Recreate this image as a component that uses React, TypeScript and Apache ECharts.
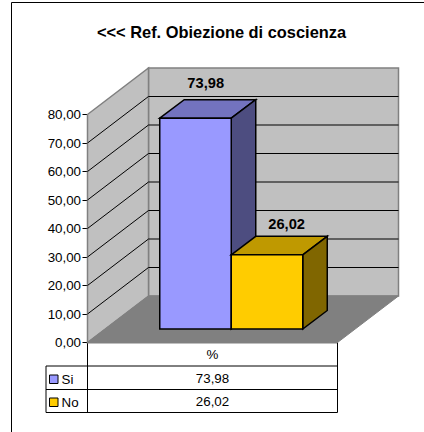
import React, { useEffect, useRef } from "react";
import * as echarts from "echarts";

const titleText = "<<< Ref. Obiezione di coscienza";
const categories = ["%"];
const seriesNames = ["Si", "No"];
const siValues = [73.98];
const noValues = [26.02];
const yMax = 80;
const yStep = 10;

const FONT = "'Liberation Sans', Arial, sans-serif";
const fmt = (v: number) => v.toFixed(2).replace(".", ",");

const DX = 61, DY = -46.5;            // wall depth
const GL = 87.5, GT = 114.5, GW = 250, GH = 228;
const BAR_W = 71.5, BAR_OFF = 18.75, BAR_LIFT = -13.5;
const BAR_DX = 24.5, BAR_DY = -18.5;
const colors = [
  { front: "#9999ff", top: "#7373bf", side: "#4d4d80" },
  { front: "#ffcc00", top: "#bf9900", side: "#806600" },
];
const labelOffset = [{ x: 10.2, y: -34.7 }, { x: 19.6, y: -30.5 }];

const renderWalls = (params: any, api: any) => {
  const cs = params.coordSys;
  const x0 = cs.x, x1 = cs.x + cs.width, yb = cs.y + cs.height, yt = cs.y;
  const kids: any[] = [];
  kids.push({ type: "polygon", shape: { points: [[x0 + DX, yt + DY], [x1 + DX, yt + DY], [x1 + DX, yb + DY], [x0 + DX, yb + DY]] }, style: { fill: "#c0c0c0", stroke: "#808080", lineWidth: 1.5 } });
  kids.push({ type: "polygon", shape: { points: [[x0, yt], [x0 + DX, yt + DY], [x0 + DX, yb + DY], [x0, yb]] }, style: { fill: "#c0c0c0", stroke: "#808080", lineWidth: 1.5 } });
  kids.push({ type: "polygon", shape: { points: [[x0, yb], [x0 + DX, yb + DY], [x1 + DX, yb + DY], [x1, yb]] }, style: { fill: "#808080", stroke: "#808080", lineWidth: 1 } });
  for (let v = yStep; v < yMax; v += yStep) {
    const y = api.coord([categories[0], v])[1];
    kids.push({ type: "polyline", shape: { points: [[x0, y], [x0 + DX, y + DY], [x1 + DX, y + DY]] }, style: { fill: "none", stroke: "#000", lineWidth: 1 } });
  }
  return { type: "group", children: kids };
};

const renderBar = (idx: number) => (params: any, api: any) => {
  const c = api.coord([api.value(0), 0]);
  const t = api.coord([api.value(0), api.value(1)]);
  const l = c[0] + BAR_OFF + (idx - 1) * BAR_W;
  const r = l + BAR_W;
  const yb = c[1] + BAR_LIFT;
  const yt = t[1] + BAR_LIFT;
  const col = colors[idx];
  const st = (fill: string) => ({ fill, stroke: "#000", lineWidth: 1.5, lineJoin: "miter" });
  return {
    type: "group",
    children: [
      { type: "polygon", shape: { points: [[l, yt], [l + BAR_DX, yt + BAR_DY], [r + BAR_DX, yt + BAR_DY], [r, yt]] }, style: st(col.top) },
      { type: "polygon", shape: { points: [[r, yt], [r + BAR_DX, yt + BAR_DY], [r + BAR_DX, yb + BAR_DY], [r, yb]] }, style: st(col.side) },
      { type: "polygon", shape: { points: [[l, yt], [r, yt], [r, yb], [l, yb]] }, style: st(col.front) },
      { type: "text", x: (l + r) / 2 + labelOffset[idx].x, y: yt + labelOffset[idx].y, style: { text: fmt(api.value(1)), font: `bold 14.67px ${FONT}`, fill: "#000", textAlign: "center", textVerticalAlign: "middle" } },
    ],
  };
};

const T = { left: 46, col: 87.5, right: 337.5, r0: 342.5, r1: 366, r2: 389.5, r3: 412.5 };
const tline = (x1: number, y1: number, x2: number, y2: number) => ({ type: "line", shape: { x1, y1, x2, y2 }, style: { stroke: "#000", lineWidth: 1 }, silent: true });
const ttext = (text: string, x: number, y: number, align = "center") => ({ type: "text", x, y, style: { text, font: `13.33px ${FONT}`, fill: "#000", textAlign: align, textVerticalAlign: "middle" }, silent: true });
const swatch = (y: number, fill: string) => ({ type: "rect", shape: { x: 49.5, y, width: 8.5, height: 8.5 }, style: { fill, stroke: "#000", lineWidth: 1 }, silent: true });

export default function App() {
  const ref = useRef<HTMLDivElement>(null);
  useEffect(() => {
    const chart = echarts.init(ref.current!, undefined, { renderer: "svg" });
    chart.setOption({
      animation: false,
      backgroundColor: "#fff",
      title: { text: titleText, left: 216.5, top: 19, textAlign: "center", textStyle: { fontFamily: FONT, fontSize: 16.4, fontWeight: "bold", color: "#000" } },
      grid: { left: GL, top: GT, width: GW, height: GH },
      xAxis: { type: "category", data: categories, axisLabel: { show: false }, axisTick: { show: false }, axisLine: { show: false }, splitLine: { show: false } },
      yAxis: {
        type: "value", min: 0, max: yMax, interval: yStep,
        axisLabel: { formatter: fmt, fontFamily: FONT, fontSize: 13.33, color: "#000", margin: 6.5 },
        axisTick: { show: true, length: 5, lineStyle: { color: "#000" } },
        axisLine: { show: false },
        splitLine: { show: false },
      },
      series: [
        { type: "custom", renderItem: renderWalls, data: [[categories[0], 0]], silent: true, z: 1 },
        { type: "custom", name: seriesNames[0], renderItem: renderBar(0), data: siValues.map((v, i) => [categories[i], v]), encode: { x: 0, y: 1 }, z: 2 },
        { type: "custom", name: seriesNames[1], renderItem: renderBar(1), data: noValues.map((v, i) => [categories[i], v]), encode: { x: 0, y: 1 }, z: 3 },
      ],
      graphic: [
        tline(11.5, 2.5, 424, 2.5),
        tline(11.5, 2.5, 11.5, 432),
        { ...tline(T.col, T.r0, T.right, T.r0), style: { stroke: "#000", lineWidth: 1.5 } },
        tline(T.left, T.r1, T.right, T.r1),
        tline(T.left, T.r2, T.right, T.r2),
        tline(T.left, T.r3, T.right, T.r3),
        tline(T.left, T.r1, T.left, T.r3),
        tline(T.col, T.r0, T.col, T.r3),
        tline(T.right, T.r0, T.right, T.r3),
        tline(GL, GT, GL, T.r0),
        swatch(375, colors[0].front),
        swatch(398, colors[1].front),
        ttext(seriesNames[0], 61.5, 379, "left"),
        ttext(seriesNames[1], 61.5, 402, "left"),
        ttext(categories[0], 212.5, 354.5),
        ttext(fmt(siValues[0]), 212.5, 378),
        ttext(fmt(noValues[0]), 212.5, 401),
      ],
    });
    return () => chart.dispose();
  }, []);
  return <div ref={ref} style={{ position: "absolute", left: 0, top: 0, width: 424, height: 432 }} />;
}
